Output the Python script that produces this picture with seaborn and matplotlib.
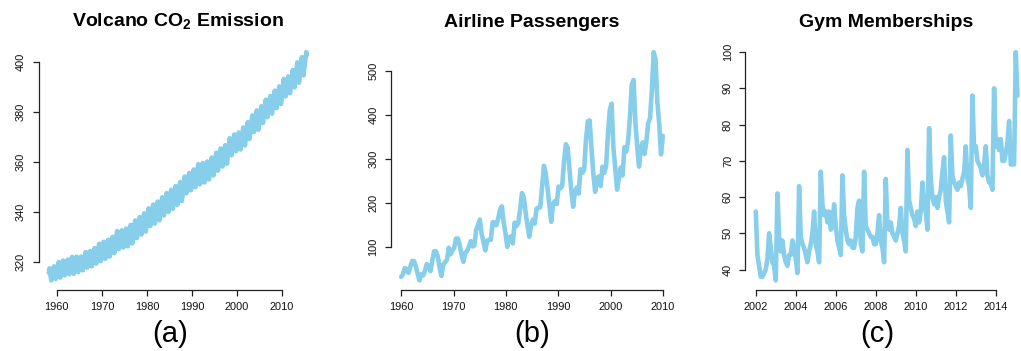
import numpy as np
import matplotlib
matplotlib.use("Agg")
import matplotlib.pyplot as plt
import seaborn as sns

# ---------------- data ----------------
# Volcano CO2 (ppm): yearly May highs and autumn lows
co2_years = list(range(1958, 2016))
co2_may_high = [
    317.5, 318.3, 320.0, 320.6, 321.0, 322.1, 322.2, 322.2, 324.0, 324.4,
    325.6, 327.3, 328.1, 328.9, 330.1, 332.4, 332.7, 333.4, 334.9, 336.6,
    338.0, 339.5, 341.5, 343.0, 344.2, 345.9, 347.6, 348.9, 350.4, 352.0,
    354.2, 355.6, 357.0, 359.1, 359.6, 360.2, 361.8, 363.7, 365.4, 366.7,
    369.5, 371.0, 371.8, 373.8, 375.9, 378.6, 380.6, 382.3, 384.9, 386.4,
    388.5, 390.2, 393.2, 394.2, 396.8, 399.8, 401.9, 403.9,
]
co2_autumn_low = [
    312.7, 313.3, 313.8, 314.7, 315.2, 315.3, 316.0, 316.7, 317.8, 318.3,
    319.4, 320.4, 321.3, 322.2, 323.6, 325.2, 325.8, 326.3, 327.5, 329.6,
    331.0, 332.2, 334.4, 335.4, 336.7, 338.6, 340.0, 341.3, 342.9, 344.4,
    347.5, 348.7, 349.9, 351.1, 351.8, 353.0, 354.6, 356.5, 358.2, 359.3,
    362.7, 364.3, 365.0, 366.6, 369.2, 372.0, 372.9, 375.6, 377.9, 379.3,
    381.5, 383.2, 386.2, 387.5, 389.8, 391.7, 394.6,
]
co2_first = 315.7   # March 1958
co2_last = 402.8    # June 2015

# Airline passengers, monthly, twelve seasons
air_values = [
    32, 38, 52, 49, 41, 55, 68, 68, 56, 39, 24, 38,
    35, 46, 61, 55, 45, 69, 90, 90, 78, 53, 34, 60,
    65, 70, 98, 83, 92, 98, 119, 119, 104, 82, 66, 86,
    91, 100, 113, 101, 103, 138, 150, 162, 129, 111, 92, 114,
    116, 116, 156, 155, 149, 163, 184, 192, 157, 131, 100, 121,
    124, 108, 155, 147, 154, 184, 222, 213, 179, 149, 123, 149,
    162, 153, 187, 189, 190, 235, 284, 267, 232, 194, 157, 198,
    204, 197, 237, 233, 238, 294, 333, 325, 275, 226, 191, 226,
    235, 221, 276, 268, 275, 342, 385, 387, 324, 267, 225, 256,
    260, 238, 282, 268, 283, 355, 411, 425, 324, 279, 230, 257,
    280, 262, 326, 316, 340, 392, 468, 479, 383, 327, 282, 325,
    337, 311, 339, 381, 392, 455, 542, 526, 428, 381, 310, 352,
]
air_start, air_end = 1960, 2010

# Gym memberships index, 4-week steps from 2002
gym_values = [
    56, 44, 41, 38, 38, 39, 40, 43, 50, 46, 42, 41, 37,
    61, 49, 45, 48, 44, 42, 41, 44, 44, 48, 46, 43, 39,
    63, 49, 47, 46, 44, 42, 45, 47, 50, 56, 47, 45, 42,
    67, 58, 55, 56, 53, 56, 51, 52, 58, 52, 48, 46, 44,
    66, 55, 51, 48, 47, 48, 46, 46, 49, 57, 59, 47, 45,
    67, 52, 51, 50, 49, 49, 47, 47, 50, 55, 48, 46, 42,
    65, 52, 51, 53, 50, 49, 48, 50, 52, 57, 50, 48, 45,
    73, 59, 57, 55, 54, 52, 56, 53, 56, 64, 58, 56, 51,
    79, 65, 60, 58, 60, 57, 60, 62, 67, 71, 59, 56, 53,
    77, 66, 64, 63, 62, 64, 63, 65, 67, 74, 65, 63, 57,
    88, 73, 74, 70, 69, 68, 66, 69, 74, 66, 64, 64, 62,
    90, 74, 76, 73, 76, 70, 70, 72, 75, 81, 69, 69, 69,
    100, 88,
]
gym_start, gym_freq = 2002, 12

# ---------------- series assembly ----------------
co2_t, co2_v = [1958 + 2.5 / 12], [co2_first]
for i, yr in enumerate(co2_years):
    co2_t.append(yr + 4.5 / 12)
    co2_v.append(co2_may_high[i])
    if i < len(co2_autumn_low):
        co2_t.append(yr + 9.0 / 12)
        co2_v.append(co2_autumn_low[i])
co2_t.append(2015 + 5.5 / 12)
co2_v.append(co2_last)

air_t = np.linspace(air_start, air_end, len(air_values))
gym_t = gym_start + np.arange(len(gym_values)) / gym_freq

# ---------------- styling ----------------
sns.set_style("white")
plt.rcParams["font.family"] = ["Liberation Sans", "DejaVu Sans"]
plt.rcParams["mathtext.fontset"] = "custom"
plt.rcParams["mathtext.rm"] = "Liberation Sans"
plt.rcParams["mathtext.bf"] = "Liberation Sans:bold"

W, H = 1021, 351
fig = plt.figure(figsize=(W / 100, H / 100), dpi=100)
fig.patch.set_facecolor("white")

LINE = "#87CEEB"   # skyblue
INK = "#222222"

panels = [
    dict(t=co2_t, v=co2_v, left=38.5, right=317.0,
         xt=range(1960, 2011, 10), yt=range(320, 401, 20),
         title=r"Volcano CO$_\mathbf{2}$ Emission", tag="(a)", tag_x=170.5),
    dict(t=air_t, v=air_values, left=390.7, right=673.3,
         xt=range(1960, 2011, 10), yt=range(100, 501, 100),
         title="Airline Passengers", tag="(b)", tag_x=532.5),
    dict(t=gym_t, v=gym_values, left=745.3, right=1027.9,
         xt=range(2002, 2015, 2), yt=range(40, 101, 10),
         title="Gym Memberships", tag="(c)", tag_x=877.0),
]

TOP, BOTTOM = 43.0, 289.5

for p in panels:
    ax = fig.add_axes([p["left"] / W, 1 - BOTTOM / H,
                       (p["right"] - p["left"]) / W, (BOTTOM - TOP) / H])
    ax.set_facecolor("white")
    sns.lineplot(x=np.asarray(p["t"], float), y=np.asarray(p["v"], float),
                 ax=ax, color=LINE, linewidth=3.3, estimator=None,
                 solid_capstyle="round", solid_joinstyle="round")

    t = np.asarray(p["t"], float)
    v = np.asarray(p["v"], float)
    tspan, vspan = t.max() - t.min(), v.max() - v.min()
    ax.set_xlim(t.min() - 0.04 * tspan, t.max() + 0.04 * tspan)
    ax.set_ylim(v.min() - 0.04 * vspan, v.max() + 0.04 * vspan)

    xt, yt = list(p["xt"]), list(p["yt"])
    ax.set_xticks(xt)
    ax.set_yticks(yt)
    ax.set_xticklabels([str(x) for x in xt])
    ax.set_yticklabels([str(y) for y in yt])

    for side in ("top", "right"):
        ax.spines[side].set_visible(False)
    for side in ("left", "bottom"):
        ax.spines[side].set_color(INK)
        ax.spines[side].set_linewidth(0.9)
    ax.spines["left"].set_bounds(yt[0], yt[-1])
    ax.spines["bottom"].set_bounds(xt[0], xt[-1])

    ax.tick_params(axis="both", which="major", bottom=True, left=True,
                   top=False, right=False, direction="out", length=4.3,
                   width=0.9, color=INK, labelcolor="#111111", labelsize=7.9)
    ax.tick_params(axis="x", pad=4.6)
    ax.tick_params(axis="y", pad=4.6, labelrotation=90)
    for lab in ax.get_yticklabels():
        lab.set_va("center")
    ax.set_xlabel("")
    ax.set_ylabel("")
    ax.grid(False)

    cx = (p["left"] + p["right"]) / 2
    fig.text(cx / W, 1 - 26.7 / H, p["title"], ha="center", va="baseline",
             fontsize=14, fontweight="bold", color="black")
    fig.text(p["tag_x"] / W, 1 - 342.0 / H, p["tag"], ha="center",
             va="baseline", fontsize=21, color="black")

fig.savefig("out.png", dpi=100, facecolor="white")
